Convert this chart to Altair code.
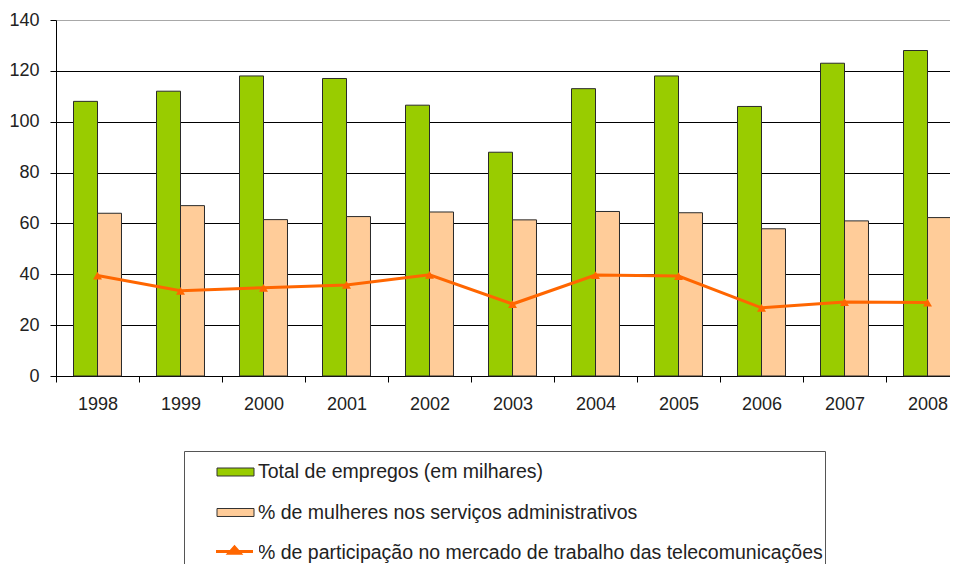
import altair as alt
import pandas as pd

# ---- data ----
years = ["1998", "1999", "2000", "2001", "2002", "2003", "2004", "2005", "2006", "2007", "2008"]
total_empregos = [108, 112, 118, 117, 106.5, 88, 113, 118, 106, 123, 128]
pct_mulheres = [64, 67, 61.5, 62.7, 64.5, 61.4, 64.7, 64.2, 57.9, 61, 62.3]
pct_telecom = [39.5, 33.5, 34.7, 35.8, 39.8, 28.3, 39.7, 39.3, 26.8, 29.1, 28.9]

s_total = "Total de empregos (em milhares)"
s_mulheres = "% de mulheres nos serviços administrativos"
s_telecom = "% de participação no mercado de trabalho das telecomunicações"
series_all = [s_total, s_mulheres, s_telecom]
series_bars = [s_total, s_mulheres]

GREEN = "#99CC00"
PINK = "#FFCC99"
ORANGE = "#FF6600"
FONT = "Liberation Sans"

bars_df = pd.DataFrame(
    [{"ano": y, "serie": s_total, "valor": v} for y, v in zip(years, total_empregos)]
    + [{"ano": y, "serie": s_mulheres, "valor": v} for y, v in zip(years, pct_mulheres)]
)
line_df = pd.DataFrame({"ano": years, "valor": pct_telecom, "linha": s_telecom})

x_scale = alt.Scale(domain=years, range=[0, 913], paddingInner=0, paddingOuter=0)
y_scale = alt.Scale(domain=[0, 140])

x_axis = alt.Axis(
    title=None, labelAngle=0, tickBand="extent", grid=False,
    domainColor="#000", tickColor="#000", tickSize=6,
    labelFont=FONT, labelFontSize=18, labelColor="#222", labelPadding=13,
)
y_axis = alt.Axis(
    title=None, values=list(range(0, 141, 20)), grid=True,
    gridColor={"condition": {"test": "datum.value === 140", "value": "#A8A8A8"}, "value": "#000000"},
    gridWidth=1, domainColor="#000", tickColor="#000", tickSize=6,
    labelFont=FONT, labelFontSize=18, labelColor="#222", labelPadding=11,
)

rect_path = "M-1,-0.216H1V0.216H-1Z"
line_path = "M-1.233,0H1.233M-0.37,0.12L0,-0.3L0.37,0.12Z"

bars = alt.Chart(bars_df).mark_bar(stroke="#2a2a2a", strokeWidth=1).encode(
    x=alt.X("ano:N", sort=years, scale=x_scale, axis=x_axis),
    xOffset=alt.XOffset("serie:N", sort=series_bars,
                        scale=alt.Scale(domain=series_bars, paddingInner=0, paddingOuter=0.73)),
    y=alt.Y("valor:Q", scale=y_scale, axis=y_axis),
    fill=alt.Fill(
        "serie:N",
        scale=alt.Scale(domain=series_all, range=[GREEN, PINK, ORANGE]),
        legend=alt.Legend(
            title=None, orient="none", legendX=128, legendY=431, direction="vertical",
            fillColor="white", strokeColor="#555", padding=2,
            symbolType=rect_path, symbolSize=1369, symbolStrokeColor="#333",
            symbolStrokeWidth=1, symbolOffset=30.5, labelOffset=3.5, rowPadding=11.5,
            labelFont=FONT, labelFontSize=19.5, labelColor="#222", labelLimit=2000,
            zindex=0,
        ),
    ),
)

line = alt.Chart(line_df).mark_line(strokeWidth=3).encode(
    x=alt.X("ano:N", sort=years, scale=x_scale, axis=x_axis),
    y=alt.Y("valor:Q", scale=y_scale, axis=y_axis),
    stroke=alt.Stroke(
        "linha:N",
        scale=alt.Scale(domain=[s_telecom], range=[ORANGE]),
        legend=alt.Legend(
            title=None, orient="none", legendX=131, legendY=515,
            fillColor="white", padding=0,
            symbolType=line_path, symbolSize=900, symbolStrokeWidth=3,
            symbolFillColor=ORANGE, symbolOffset=31, labelOffset=0,
            labelExpr="''", labelFontSize=19.5, labelLimit=2000,
            zindex=1,
        ),
    ),
)

points = alt.Chart(line_df).mark_point(
    shape="triangle-up", filled=True, size=80, color=ORANGE, opacity=1
).encode(
    x=alt.X("ano:N", sort=years, scale=x_scale, axis=x_axis),
    y=alt.Y("valor:Q", scale=y_scale, axis=y_axis),
)

chart = (
    alt.layer(bars, line, points)
    .properties(
        width=894, height=356,
        autosize=alt.AutoSizeParams(type="none"),
        padding={"left": 48, "top": 12, "right": 0, "bottom": 196},
        background="white",
    )
    .configure_view(strokeWidth=0)
)

chart.save("out.html", embed_options={"renderer": "svg", "actions": False})
